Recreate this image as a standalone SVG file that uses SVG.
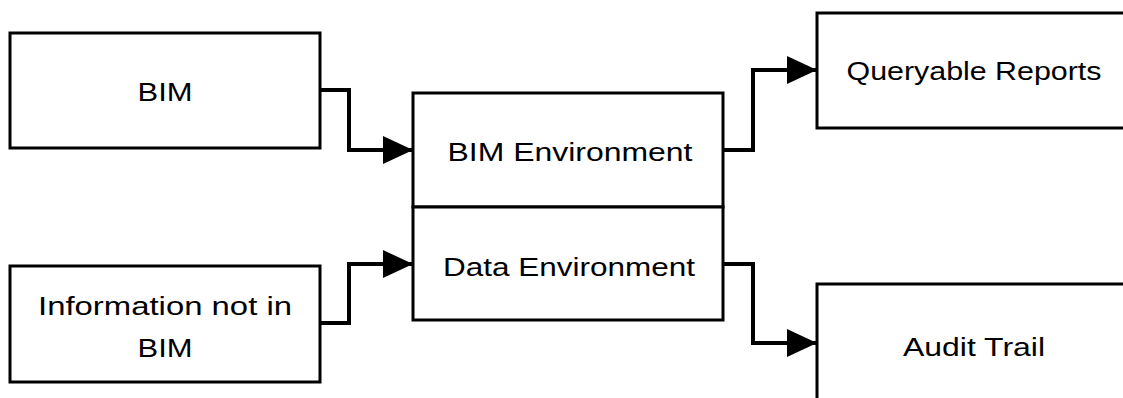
<svg xmlns="http://www.w3.org/2000/svg" width="1123" height="398" viewBox="0 0 1123 398">
  <style>
    .box { fill: #ffffff; stroke: #000000; stroke-width: 3; }
    .lbl { font-family: "Liberation Sans", Arial, sans-serif; font-size: 25px; fill: #000000; text-anchor: middle; }
    .conn { fill: none; stroke: #000000; stroke-width: 4; stroke-linejoin: miter; }
  </style>
  <defs>
    <marker id="arrow" markerUnits="userSpaceOnUse" markerWidth="32" markerHeight="30" refX="30" refY="14" orient="auto">
      <polygon points="0,0 30,14 0,28" fill="#000000"/>
    </marker>
  </defs>
  <rect width="1123" height="398" fill="#ffffff"/>

  <g id="node-bim">
    <rect class="box" x="10" y="33" width="310" height="115"/>
    <text class="lbl" x="165" y="101" textLength="55" lengthAdjust="spacingAndGlyphs">BIM</text>
  </g>

  <g id="node-info">
    <rect class="box" x="10" y="266" width="310" height="116"/>
    <text class="lbl" x="165" y="315" textLength="254" lengthAdjust="spacingAndGlyphs">Information not in</text>
    <text class="lbl" x="165" y="357" textLength="55" lengthAdjust="spacingAndGlyphs">BIM</text>
  </g>

  <g id="node-bim-env">
    <rect class="box" x="413" y="93" width="310" height="114"/>
    <text class="lbl" x="570" y="161" textLength="245" lengthAdjust="spacingAndGlyphs">BIM Environment</text>
  </g>

  <g id="node-data-env">
    <rect class="box" x="413" y="207" width="310" height="113"/>
    <text class="lbl" x="569" y="276" textLength="252" lengthAdjust="spacingAndGlyphs">Data Environment</text>
  </g>

  <g id="node-reports">
    <rect class="box" x="817" y="13" width="312" height="115"/>
    <text class="lbl" x="974" y="80" textLength="255" lengthAdjust="spacingAndGlyphs">Queryable Reports</text>
  </g>

  <g id="node-audit">
    <rect class="box" x="817" y="284" width="312" height="120"/>
    <text class="lbl" x="974" y="356" textLength="142" lengthAdjust="spacingAndGlyphs">Audit Trail</text>
  </g>

  <g id="connectors">
    <path class="conn" d="M320,90 H349 V150 H413" marker-end="url(#arrow)"/>
    <path class="conn" d="M320,323 H349 V264 H413" marker-end="url(#arrow)"/>
    <path class="conn" d="M723,150 H753 V70 H817" marker-end="url(#arrow)"/>
    <path class="conn" d="M723,264 H753 V343 H817" marker-end="url(#arrow)"/>
  </g>
</svg>
